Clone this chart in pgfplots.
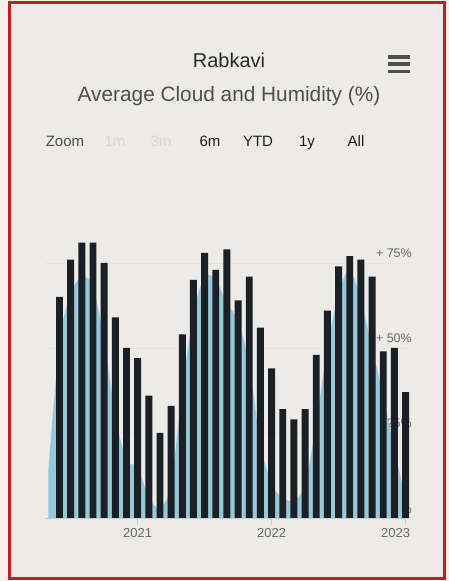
\documentclass[border=0pt]{standalone}
\usepackage{fontspec}
\setmainfont{Liberation Sans}
\usepackage{pgfplots}
\pgfplotsset{compat=1.18}

\definecolor{outerbg}{RGB}{241,240,236}
\definecolor{bgc}{RGB}{236,235,231}
\definecolor{redc}{RGB}{188,32,38}
\definecolor{barc}{RGB}{26,32,38}
\definecolor{areac}{RGB}{150,200,217}
\definecolor{titlec}{RGB}{40,40,40}
\definecolor{subc}{RGB}{78,78,78}
\definecolor{btnc}{RGB}{30,30,30}
\definecolor{offc}{RGB}{216,215,211}
\definecolor{labc}{RGB}{105,105,105}
\definecolor{gridc}{RGB}{228,227,223}
\definecolor{axisc}{RGB}{200,206,214}

% humidity (bars) and cloud (area), x = months since Jan 2020
\pgfplotstableread{
x  hum
5  65
6  76
7  81
8  81
9  75
10 59
11 50
12 47
13 36
14 25
15 33
16 54
17 70
18 78
19 73
20 79
21 64
22 71
23 56
24 44
25 32
26 29
27 32
28 48
29 61
30 74
31 77
32 76
33 71
34 49
35 50
36 37
}\humidity

\pgfplotstableread{
x  cloud
4  14
5  52
6  66
7  71
8  68
9  52
10 30
11 17
12 15
13 6
14 3
15 10
16 38
17 60
18 71
19 70
20 63
21 58
22 45
23 22
24 10
25 6
26 5
27 10
28 28
29 50
30 66
31 73
32 64
33 50
34 36
35 20
36 6
}\cloud

\begin{document}
\begin{tikzpicture}
\useasboundingbox (0,0) rectangle (449pt,581pt);
\fill[outerbg] (0,0) rectangle (449pt,581pt);
\fill[bgc] (9.5pt,2pt) rectangle (444pt,578pt);
\draw[redc, line width=3pt] (9.5pt,2pt) rectangle (444pt,578pt);

% titles
\node[anchor=base, inner sep=0pt, text=titlec, font=\fontsize{20}{22}\selectfont] at (229pt,513.5pt) {Rabkavi};
\node[anchor=base, inner sep=0pt, text=subc, font=\fontsize{20.8}{23}\selectfont] at (229pt,479pt) {Average Cloud and Humidity (\%)};

% menu icon
\foreach \yy in {524,517,509.5}
  \draw[subc, line width=3.2pt] (388pt,\yy pt) -- (410pt,\yy pt);

% range selector
\begin{scope}[every node/.style={anchor=base, inner sep=0pt, font=\fontsize{15}{17}\selectfont}]
\node[text=subc] at (65pt,434pt) {Zoom};
\node[text=offc] at (115pt,434pt) {1m};
\node[text=offc] at (161pt,434pt) {3m};
\node[text=btnc] at (210pt,434pt) {6m};
\node[text=btnc] at (258pt,434pt) {YTD};
\node[text=btnc] at (307pt,434pt) {1y};
\node[text=btnc] at (356pt,434pt) {All};
\end{scope}

\begin{axis}[
    at={(45pt,63pt)}, anchor=south west,
    scale only axis,
    width=365pt, height=289pt,
    xmin=3.7, xmax=36.4,
    ymin=0, ymax=85,
    axis x line*=bottom,
    axis y line*=right,
    x axis line style={-, draw=axisc, line width=0.8pt},
    y axis line style={draw=none},
    xtick={12,24},
    xticklabels={2021,2022},
    extra x ticks={36},
    extra x tick labels={2023},
    extra x tick style={xticklabel style={xshift=-10pt}},
    xtick align=outside,
    major tick length=7pt,
    xtick style={draw=axisc, line width=0.8pt},
    xticklabel style={font=\fontsize{13}{15}\selectfont, text=labc},
    ytick={0,25,50,75},
    yticklabels={+ 0\%,+ 25\%,+ 50\%,+ 75\%},
    ytick style={draw=none},
    yticklabel style={anchor=base east, inner sep=0pt, xshift=2pt, yshift=5pt,
        font=\fontsize{12.5}{14}\selectfont, text=labc},
    ymajorgrids,
    grid style={gridc, line width=0.7pt},
]
\addplot[draw=none, fill=areac, smooth] table[x=x, y=cloud] {\cloud} \closedcycle;
\addplot[ybar, bar width=0.62, fill=barc, draw=none] table[x=x, y=hum] {\humidity};
\end{axis}
\end{tikzpicture}
\end{document}
